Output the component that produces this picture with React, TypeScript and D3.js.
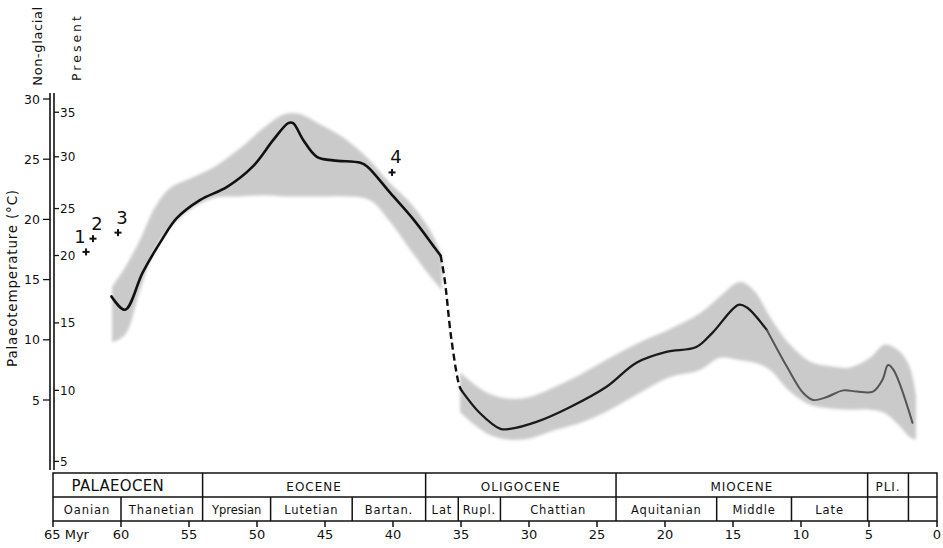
import React from 'react';
import * as d3 from 'd3';

// ages in Myr before present, temperatures on the non-glacial scale (°C)
const lineAgeA = [60.7, 59.7, 58.4, 57.0, 55.9, 54.2, 52.2, 50.3, 48.8, 47.7, 47.35, 46.6, 45.6, 44.4, 42.4, 41.9, 40.2, 38.5, 36.9, 36.5];
const lineTempA = [13.6, 12.5, 15.6, 18.3, 20.1, 21.6, 22.7, 24.4, 26.6, 28.0, 28.0, 26.6, 25.2, 24.9, 24.7, 24.4, 22.2, 20.0, 17.6, 17.0];
const dashAge = [36.5, 36.2, 35.7, 35.1, 34.9];
const dashTemp = [17.0, 15.0, 10.0, 6.1, 5.7];
const lineAgeB = [34.9, 33.6, 32.1, 31.4, 29.4, 27.0, 24.3, 22.1, 19.9, 17.7, 16.5, 14.6, 14.0, 12.5];
const lineTempB = [5.7, 3.9, 2.6, 2.6, 3.2, 4.4, 6.1, 8.1, 9.0, 9.4, 10.6, 12.9, 12.7, 10.8];
const lineAgeC = [12.5, 11.0, 9.85, 9.1, 8.1, 6.9, 5.9, 4.7, 4.0, 3.6, 3.2, 1.8];
const lineTempC = [10.8, 7.7, 5.6, 5.0, 5.25, 5.8, 5.7, 5.7, 6.7, 7.9, 7.5, 3.1];

// shaded uncertainty envelope
const bandAgeA = [60.66, 59.71, 58.6, 57.5, 56.4, 54.93, 53.09, 51.25, 49.41, 47.94, 46.84, 45.37, 43.53, 41.69, 40.22, 38.75, 37.28, 36.4];
const bandHighA = [14.4, 16.0, 18.3, 21.0, 22.6, 23.4, 24.4, 25.9, 27.7, 28.75, 28.75, 27.9, 26.7, 24.9, 23.0, 21.4, 19.1, 17.0];
const bandLowA = [9.8, 10.4, 14.1, 17.5, 19.3, 20.8, 21.8, 21.9, 22.0, 21.9, 21.9, 21.9, 21.9, 21.6, 19.8, 17.5, 15.3, 14.1];
const bandAgeB = [35.07, 33.97, 32.87, 31.4, 29.93, 28.09, 26.25, 24.04, 21.84, 19.63, 17.43, 15.96, 14.49, 13.38, 12.28, 10.81, 9.34, 7.87, 6.4, 4.93, 3.82, 2.72, 1.99, 1.54];
const bandHighB = [7.3, 6.25, 5.5, 5.1, 5.25, 6.1, 7.1, 8.5, 9.8, 10.9, 12.2, 13.6, 14.8, 14.0, 11.9, 9.6, 8.2, 7.8, 7.7, 8.5, 9.6, 9.0, 7.7, 5.4];
const bandLowB = [4.0, 2.9, 2.1, 1.7, 1.8, 2.5, 3.1, 4.2, 5.6, 6.9, 7.5, 8.5, 8.3, 8.1, 7.5, 5.7, 4.6, 4.3, 4.2, 4.2, 3.9, 2.8, 1.9, 1.7];

// numbered single estimates
const pointLabels = ['1', '2', '3', '4'];
const pointAge = [62.57, 62.06, 60.22, 40.07];
const pointTemp = [17.3, 18.4, 18.9, 23.9];

// axes
const ageTicks = [65, 60, 55, 50, 45, 40, 35, 30, 25, 20, 15, 10, 5, 0];
const nonGlacialTicks = [30, 25, 20, 15, 10, 5];
const presentTicks = [35, 30, 25, 20, 15, 10, 5];
const presentAsNonGlacial = [28.9, 25.2, 20.9, 17.0, 11.4, 5.8, -0.1];

// stratigraphic table
const epochNames = ['PALAEOCEN', 'EOCENE', 'OLIGOCENE', 'MIOCENE', 'PLI.', ''];
const epochBounds = [65, 54, 37.6, 23.6, 5.1, 2.1, 0];
const stageNames = ['Oanian', 'Thanetian', 'Ypresian', 'Lutetian', 'Bartan.', 'Lat', 'Rupl.', 'Chattian', 'Aquitanian', 'Middle', 'Late', '', ''];
const stageBounds = [65, 60, 54, 49, 43, 37.6, 35.2, 32.1, 23.6, 16.2, 10.7, 5.1, 2.1, 0];

const W = 943;
const H = 548;
const font = '"DejaVu Sans", sans-serif';

export default function App() {
  const x = d3.scaleLinear().domain([65, 0]).range([53, 937]);
  const y = d3.scaleLinear().domain([5, 30]).range([400, 99]);
  const yPresent = d3.scaleLinear().domain(presentTicks).range(presentAsNonGlacial.map(v => y(v)));

  const linePath = (ages: number[], temps: number[]) =>
    d3.line<number>()
      .x(a => x(a))
      .y((a, i) => y(temps[i]))
      .curve(d3.curveCatmullRom.alpha(0.5))(ages) || '';

  const bandPath = (ages: number[], low: number[], high: number[]) =>
    d3.area<number>()
      .x(a => x(a))
      .y0((a, i) => y(low[i]))
      .y1((a, i) => y(high[i]))
      .curve(d3.curveCatmullRom.alpha(0.5))(ages) || '';

  const tableTop = 473;
  const tableMid = 497;
  const tableBottom = 521;

  const ngX = 50;
  const prX = 54;

  return (
    <>
      <style>{`body{margin:0}`}</style>
      <svg width={W} height={H} style={{display: 'block', background: '#fff'}} fontFamily={font}>
        <defs>
          <filter id="soft" x="-5%" y="-5%" width="110%" height="110%">
            <feGaussianBlur stdDeviation="1.6"/>
          </filter>
        </defs>

        {/* envelope */}
        <g filter="url(#soft)" fill="#cacaca">
          <path d={bandPath(bandAgeA, bandLowA, bandHighA)}/>
          <path d={bandPath(bandAgeB, bandLowB, bandHighB)}/>
        </g>

        {/* curve */}
        <g fill="none" strokeLinejoin="round" strokeLinecap="round">
          <path d={linePath(lineAgeA, lineTempA)} stroke="#111" strokeWidth={2.6}/>
          <path d={linePath(dashAge, dashTemp)} stroke="#111" strokeWidth={2.4} strokeDasharray="7 4" strokeLinecap="butt"/>
          <path d={linePath(lineAgeB, lineTempB)} stroke="#1a1a1a" strokeWidth={2.3}/>
          <path d={linePath(lineAgeC, lineTempC)} stroke="#555" strokeWidth={2}/>
        </g>

        {/* numbered points */}
        <g>
          {pointLabels.map((lab, i) => {
            const px = x(pointAge[i]);
            const py = y(pointTemp[i]);
            const dx = i === 0 ? -6 : 4;
            return (
              <g key={lab}>
                <line x1={px - 3.5} x2={px + 3.5} y1={py} y2={py} stroke="#111" strokeWidth={2}/>
                <line x1={px} x2={px} y1={py - 3.5} y2={py + 3.5} stroke="#111" strokeWidth={2}/>
                <text x={px + dx} y={py - 9} fontSize={18} textAnchor="middle" fill="#111">{lab}</text>
              </g>
            );
          })}
        </g>

        {/* left axes */}
        <g stroke="#111" strokeWidth={1.6}>
          <line x1={ngX} x2={ngX} y1={93} y2={470}/>
          <line x1={prX} x2={prX} y1={93} y2={470}/>
        </g>
        <g fontSize={12.5} fill="#111">
          {nonGlacialTicks.map(t => (
            <g key={'ng' + t}>
              <line x1={ngX - 7} x2={ngX} y1={y(t)} y2={y(t)} stroke="#111" strokeWidth={1.3}/>
              <text x={ngX - 10} y={y(t) + 4.5} textAnchor="end">{t}</text>
            </g>
          ))}
          {presentTicks.map(t => (
            <g key={'pr' + t}>
              <line x1={prX} x2={prX + 5} y1={yPresent(t)} y2={yPresent(t)} stroke="#111" strokeWidth={1.3}/>
              <text x={prX + 6} y={yPresent(t) + 4.5} fontSize={12}>{t}</text>
            </g>
          ))}
        </g>
        <text transform="translate(17,278) rotate(-90)" textAnchor="middle" fontSize={13.5} fill="#111" letterSpacing={0.8}>
          Palaeotemperature (°C)
        </text>
        <text transform="translate(42,46) rotate(-90)" textAnchor="middle" fontSize={13} fill="#111" letterSpacing={0.6}>Non-glacial</text>
        <text transform="translate(81,47) rotate(-90)" textAnchor="middle" fontSize={12.5} fill="#111" letterSpacing={3}>Present</text>

        {/* stratigraphic table */}
        <g stroke="#111" strokeWidth={1.5} fill="none">
          <rect x={x(65)} y={tableTop} width={x(0) - x(65)} height={tableBottom - tableTop}/>
          <line x1={x(65)} x2={x(0)} y1={tableMid} y2={tableMid}/>
          {epochBounds.slice(1, -1).map(b => (
            <line key={'eb' + b} x1={x(b)} x2={x(b)} y1={tableTop} y2={tableMid}/>
          ))}
          {stageBounds.slice(1, -1).map(b => (
            <line key={'sb' + b} x1={x(b)} x2={x(b)} y1={tableMid} y2={tableBottom}/>
          ))}
        </g>
        <g fill="#111" textAnchor="middle">
          {epochNames.map((n, i) => (
            <text key={'en' + i} x={(x(epochBounds[i]) + x(epochBounds[i + 1])) / 2 - (i === 0 ? 10 : 0)} y={tableMid - 6}
                  fontSize={i === 0 ? 15 : 12} letterSpacing={i === 0 ? 0.3 : 1}>{n}</text>
          ))}
          {stageNames.map((n, i) => (
            <text key={'sn' + i} x={(x(stageBounds[i]) + x(stageBounds[i + 1])) / 2} y={tableBottom - 7}
                  fontSize={11.5} letterSpacing={i === 2 ? 0 : 0.9}>{n}</text>
          ))}
        </g>

        {/* age axis */}
        <g fill="#111" fontSize={13}>
          {ageTicks.map(t => (
            <g key={'at' + t}>
              <line x1={x(t)} x2={x(t)} y1={tableBottom} y2={tableBottom + 6} stroke="#111" strokeWidth={1.5}/>
              {t === 65
                ? <text x={x(t) - 9} y={tableBottom + 18} textAnchor="start">{t} Myr</text>
                : <text x={x(t)} y={tableBottom + 18} textAnchor="middle">{t}</text>}
            </g>
          ))}
        </g>
      </svg>
    </>
  );
}
